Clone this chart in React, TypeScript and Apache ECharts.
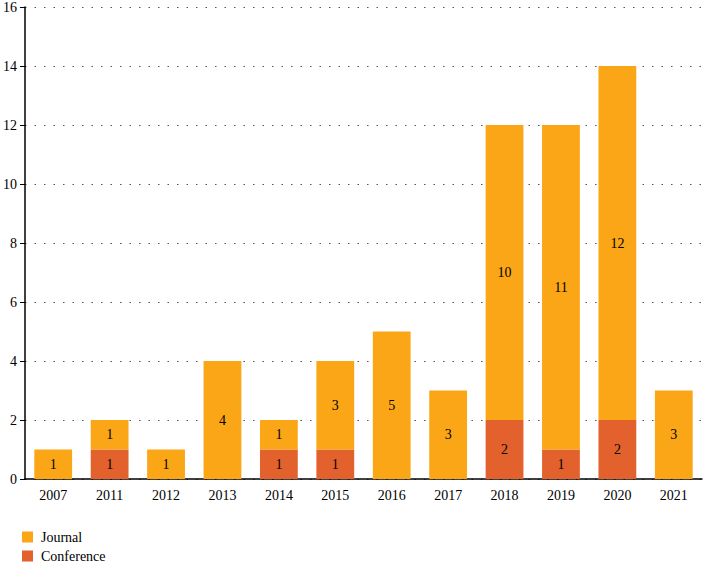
import React, { useEffect, useRef } from "react";
import * as echarts from "echarts";

const years = ["2007", "2011", "2012", "2013", "2014", "2015", "2016", "2017", "2018", "2019", "2020", "2021"];
const conference = [0, 1, 0, 0, 1, 1, 0, 0, 2, 1, 2, 0];
const journal = [1, 1, 1, 4, 1, 3, 5, 3, 10, 11, 12, 3];
const yTicks = [0, 2, 4, 6, 8, 10, 12, 14, 16];

const FONT = "Liberation Serif";

export default function App() {
  const ref = useRef<HTMLDivElement>(null);
  useEffect(() => {
    if (!ref.current) return;
    const chart = echarts.init(ref.current, undefined, { renderer: "svg" });
    const label = {
      show: true,
      position: "inside" as const,
      color: "#000",
      fontFamily: FONT,
      fontSize: 14,
      formatter: (p: any) => (p.value > 0 ? String(p.value) : ""),
    };
    const legendBase = {
      orient: "horizontal",
      left: 22,
      padding: 0,
      itemWidth: 11,
      itemHeight: 11,
      icon: "rect",
      textStyle: { fontFamily: FONT, fontSize: 14, lineHeight: 13, color: "#000", padding: [0, 0, 0, 3] },
    };
    chart.setOption({
      animation: false,
      textStyle: { fontFamily: FONT },
      grid: { left: 24, top: 5, right: 3, bottom: 83, containLabel: false },
      legend: [
        { ...legendBase, top: 530, data: ["Journal"] },
        { ...legendBase, top: 549, data: ["Conference"] },
      ],
      xAxis: {
        type: "category",
        data: years,
        axisLine: { lineStyle: { color: "#000", width: 1.5 } },
        axisTick: { alignWithLabel: true, length: 5, lineStyle: { color: "#000" } },
        axisLabel: { color: "#000", fontFamily: FONT, fontSize: 14, margin: 9 },
      },
      yAxis: {
        type: "value",
        min: yTicks[0],
        max: yTicks[yTicks.length - 1],
        interval: 2,
        axisLine: { show: true, lineStyle: { color: "#000", width: 1.5 } },
        axisTick: { show: true, length: 5, lineStyle: { color: "#000" } },
        axisLabel: { color: "#000", fontFamily: FONT, fontSize: 14, margin: 8 },
        splitLine: { show: true, lineStyle: { color: "#555", type: [1.5, 8], width: 1.2 } },
      },
      series: [
        {
          name: "Conference",
          type: "bar",
          stack: "total",
          data: conference,
          barWidth: "67%",
          itemStyle: { color: "#E3612D" },
          label,
        },
        {
          name: "Journal",
          type: "bar",
          stack: "total",
          data: journal,
          barWidth: "67%",
          itemStyle: { color: "#FBA616" },
          label,
        },
      ],
    });
    return () => chart.dispose();
  }, []);
  return <div ref={ref} style={{ width: 705, height: 562, position: "absolute", left: 0, top: 0 }} />;
}
